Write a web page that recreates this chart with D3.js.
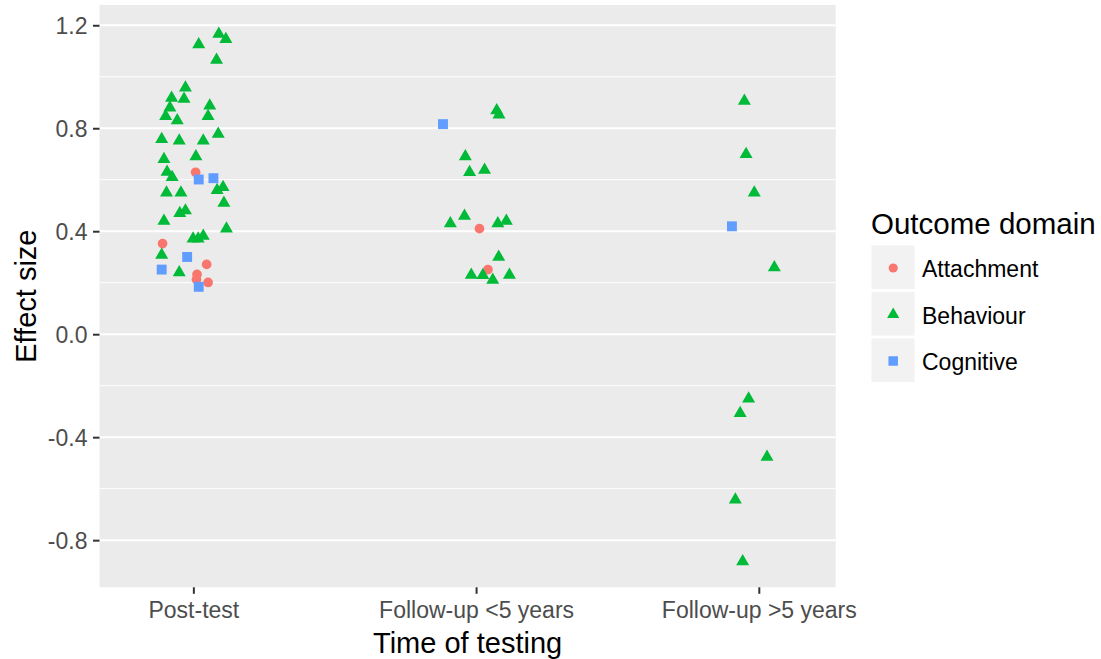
<!DOCTYPE html>
<html>
<head>
<meta charset="utf-8">
<script src="https://cdn.jsdelivr.net/npm/d3@7"></script>
<style>
  html, body { margin: 0; padding: 0; background: #fff; }
  svg { display: block; }
  text { font-family: "Liberation Sans", Arial, sans-serif; }
</style>
</head>
<body>
<svg id="chart" width="1101" height="659"></svg>
<script>
// ---- Data ----
const categories = ["Post-test", "Follow-up <5 years", "Follow-up >5 years"];
const domains = ["Attachment", "Behaviour", "Cognitive"];
const domainColors = ["#F8766D", "#00BA38", "#619CFF"];
const yTickValues = [-0.8, -0.4, 0.0, 0.4, 0.8, 1.2];
const yMinorValues = [-0.6, -0.2, 0.2, 0.6, 1.0];

// each point: [time category index (1-based), horizontal jitter, effect size]
const attachmentPoints = [
  [1, 0.008, 0.629], [1, -0.109, 0.352], [1, 0.047, 0.271],
  [1, 0.013, 0.232], [1, 0.011, 0.212], [1, 0.052, 0.201],
  [2, 0.012, 0.410], [2, 0.042, 0.251]
];
const behaviourPoints = [
  [1, 0.090, 1.166], [1, 0.115, 1.146], [1, 0.019, 1.125], [1, 0.082, 1.065],
  [1, -0.028, 0.957], [1, -0.077, 0.917], [1, -0.033, 0.914], [1, -0.083, 0.880],
  [1, -0.098, 0.847], [1, -0.057, 0.830], [1, 0.058, 0.887], [1, 0.052, 0.847],
  [1, -0.112, 0.757], [1, -0.050, 0.751], [1, 0.035, 0.751], [1, 0.088, 0.778],
  [1, -0.104, 0.680], [1, 0.009, 0.690], [1, -0.093, 0.630], [1, -0.075, 0.610],
  [1, -0.095, 0.549], [1, -0.044, 0.549], [1, 0.084, 0.559], [1, 0.105, 0.571],
  [1, 0.108, 0.510], [1, -0.048, 0.470], [1, -0.028, 0.480], [1, -0.104, 0.440],
  [1, 0.117, 0.410], [1, -0.001, 0.371], [1, 0.017, 0.371], [1, 0.035, 0.381],
  [1, -0.112, 0.308], [1, -0.050, 0.240],
  [2, 0.073, 0.869], [2, 0.081, 0.852], [2, -0.038, 0.690], [2, -0.023, 0.629],
  [2, 0.030, 0.638], [2, -0.091, 0.430], [2, -0.041, 0.459], [2, 0.077, 0.430],
  [2, 0.107, 0.440], [2, 0.080, 0.300], [2, -0.017, 0.230], [2, 0.024, 0.229],
  [2, 0.059, 0.211], [2, 0.118, 0.230],
  [3, -0.051, 0.906], [3, -0.045, 0.699], [3, -0.016, 0.549], [3, 0.055, 0.259],
  [3, -0.036, -0.251], [3, -0.066, -0.307], [3, 0.029, -0.477], [3, -0.083, -0.643],
  [3, -0.057, -0.883]
];
const cognitivePoints = [
  [1, 0.019, 0.601], [1, 0.071, 0.606], [1, -0.022, 0.300],
  [1, -0.112, 0.251], [1, 0.019, 0.184],
  [2, -0.117, 0.816],
  [3, -0.095, 0.419]
];
const seriesPoints = [attachmentPoints, behaviourPoints, cognitivePoints];

// ---- Layout ----
const panel = { left: 99.5, right: 835.7, top: 5, bottom: 587.3 };
const svg = d3.select("#chart");

const x = d3.scaleLinear().domain([0.668, 3.272]).range([panel.left, panel.right]);
const y = d3.scaleLinear().domain([-0.9831, 1.2787]).range([panel.bottom, panel.top]);

const symbolTypes = [d3.symbolCircle, d3.symbolTriangle, d3.symbolSquare];
const symbolSizes = [74, 73, 98];
const legendSymbolSizes = [66, 64, 90];

// panel background
svg.append("rect")
  .attr("x", panel.left).attr("y", panel.top)
  .attr("width", panel.right - panel.left).attr("height", panel.bottom - panel.top)
  .attr("fill", "#EBEBEB");

// minor grid
svg.append("g").selectAll("line").data(yMinorValues).join("line")
  .attr("x1", panel.left).attr("x2", panel.right)
  .attr("y1", d => y(d)).attr("y2", d => y(d))
  .attr("stroke", "#FFFFFF").attr("stroke-width", 1);
// major grid
svg.append("g").selectAll("line").data(yTickValues).join("line")
  .attr("x1", panel.left).attr("x2", panel.right)
  .attr("y1", d => y(d)).attr("y2", d => y(d))
  .attr("stroke", "#FFFFFF").attr("stroke-width", 2);

// points
seriesPoints.forEach((pts, si) => {
  svg.append("g").selectAll("path").data(pts).join("path")
    .attr("transform", d => `translate(${x(d[0] + d[1])},${y(d[2])})`)
    .attr("d", d3.symbol().type(symbolTypes[si]).size(symbolSizes[si])())
    .attr("fill", domainColors[si]);
});

// axes
const yAxis = d3.axisLeft(y).tickValues(yTickValues).tickSize(6.5).tickPadding(5.5)
  .tickFormat(d => d.toFixed(1));
const yg = svg.append("g").attr("transform", `translate(${panel.left},0)`).call(yAxis);
const xAxis = d3.axisBottom(x).tickValues([1, 2, 3]).tickSize(6.5).tickPadding(7.5)
  .tickFormat(d => categories[d - 1]);
const xg = svg.append("g").attr("transform", `translate(0,${panel.bottom})`).call(xAxis);
[yg, xg].forEach(g => {
  g.select(".domain").remove();
  g.selectAll(".tick line").attr("stroke", "#333333").attr("stroke-width", 2);
  g.selectAll(".tick text").attr("fill", "#4D4D4D")
    .style("font-size", "23px")
    .style("font-family", '"Liberation Sans", Arial, sans-serif');
});
xg.selectAll(".tick text").attr("dy", "0.72em");
yg.selectAll(".tick text").attr("dy", "0.36em");

// axis titles
svg.append("text")
  .attr("x", (panel.left + panel.right) / 2).attr("y", 653)
  .attr("text-anchor", "middle").attr("fill", "#000")
  .style("font-size", "29px")
  .text("Time of testing");
svg.append("text")
  .attr("transform", `translate(35.5,${(panel.top + panel.bottom) / 2}) rotate(-90)`)
  .attr("text-anchor", "middle").attr("fill", "#000")
  .style("font-size", "29px")
  .text("Effect size");

// legend
const legend = svg.append("g");
legend.append("text")
  .attr("x", 871).attr("y", 233.5)
  .attr("fill", "#000").style("font-size", "29.5px")
  .text("Outcome domain");
domains.forEach((name, i) => {
  const top = 245.5 + i * 46.5;
  legend.append("rect")
    .attr("x", 871.5).attr("y", top)
    .attr("width", 43).attr("height", 43.5)
    .attr("fill", "#F2F2F2");
  legend.append("path")
    .attr("transform", `translate(893.2,${top + 22.5})`)
    .attr("d", d3.symbol().type(symbolTypes[i]).size(legendSymbolSizes[i])())
    .attr("fill", domainColors[i]);
  legend.append("text")
    .attr("x", 922).attr("y", top + 22 + 9.6)
    .attr("fill", "#000").style("font-size", "23px")
    .text(name);
});
</script>
</body>
</html>
